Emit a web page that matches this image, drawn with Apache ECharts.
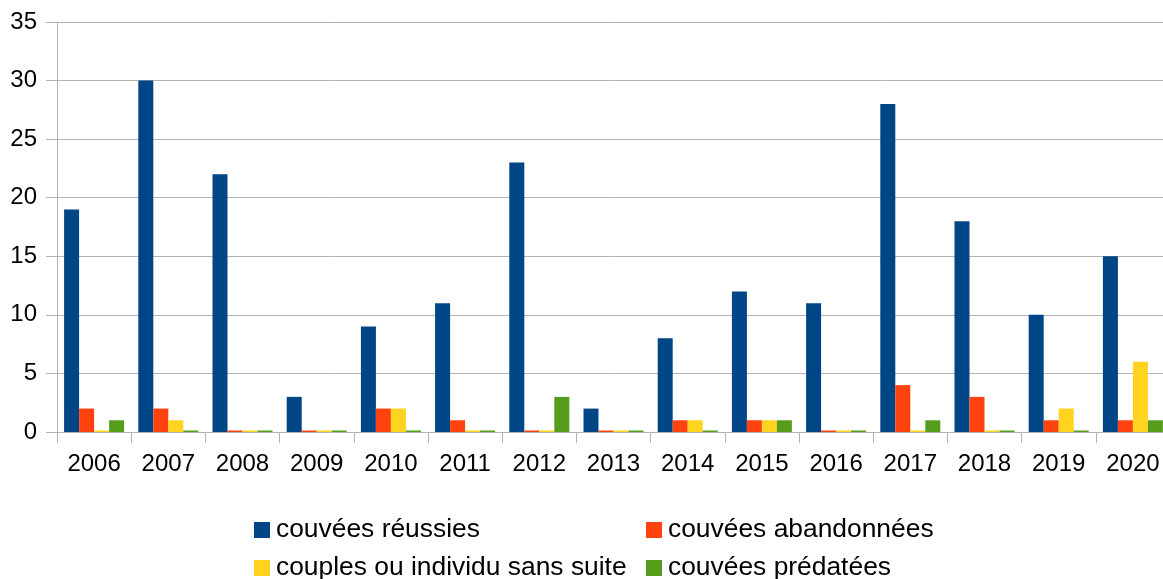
<!DOCTYPE html>
<html lang="fr">
<head>
    <meta charset="UTF-8">
    <title>Couvées 2006-2020</title>
    <script src="https://cdn.jsdelivr.net/npm/echarts@6/dist/echarts.min.js"></script>
    <style>
        html, body { margin: 0; padding: 0; background: #fff; }
        #chart { width: 1163px; height: 579px; }
    </style>
</head>
<body>
<div id="chart"></div>
<script>
    // données
    var annees = ['2006', '2007', '2008', '2009', '2010', '2011', '2012', '2013', '2014', '2015', '2016', '2017', '2018', '2019', '2020'];
    var reussies = [19, 30, 22, 3, 9, 11, 23, 2, 8, 12, 11, 28, 18, 10, 15];
    var abandonnees = [2, 2, 0, 0, 2, 1, 0, 0, 1, 1, 0, 4, 3, 1, 1];
    var sansSuite = [0, 1, 0, 0, 2, 0, 0, 0, 1, 1, 0, 0, 0, 2, 6];
    var predatees = [1, 0, 0, 0, 0, 0, 3, 0, 0, 1, 0, 1, 0, 0, 1];
    var noms = ['couvées réussies', 'couvées abandonnées', 'couples ou individu sans suite', 'couvées prédatées'];
    var couleurs = ['#004586', '#ff420e', '#ffd320', '#579d1c'];

    var police = '"Liberation Sans", Arial, sans-serif';

    function legende(i, left, top) {
        return {
            data: [noms[i]],
            left: left,
            top: top,
            padding: 0,
            icon: 'rect',
            itemWidth: 16,
            itemHeight: 16,
            itemGap: 0,
            selectedMode: false,
            textStyle: { fontFamily: police, fontSize: 26.4, color: '#000', lineHeight: 30, padding: [0, 0, 0, 1] }
        };
    }

    function serie(i, data) {
        return {
            name: noms[i],
            type: 'bar',
            data: data,
            barWidth: 15,
            barGap: '0%',
            barMinHeight: 1.5,
            itemStyle: { color: couleurs[i] }
        };
    }

    var option = {
        animation: false,
        color: couleurs,
        grid: {
            left: 57,
            right: -7,
            top: 22,
            bottom: 147,
            containLabel: false,
            outerBoundsMode: 'none'
        },
        legend: [
            legende(0, 254, 515),
            legende(1, 646, 515),
            legende(2, 254, 553),
            legende(3, 646, 553)
        ],
        xAxis: {
            type: 'category',
            data: annees,
            axisLine: { lineStyle: { color: '#b3b3b3', width: 1 } },
            axisTick: { show: true, length: 11, lineStyle: { color: '#b3b3b3' } },
            axisLabel: { color: '#000', fontFamily: police, fontSize: 24, margin: 20 },
            splitLine: { show: false }
        },
        yAxis: {
            type: 'value',
            min: 0,
            max: 35,
            interval: 5,
            axisLine: { show: true, lineStyle: { color: '#b3b3b3', width: 1 } },
            axisTick: { show: true, length: 11, lineStyle: { color: '#b3b3b3' } },
            axisLabel: { color: '#000', fontFamily: police, fontSize: 24, margin: 20 },
            splitLine: { show: true, lineStyle: { color: '#b3b3b3', width: 1 } }
        },
        series: [
            serie(0, reussies),
            serie(1, abandonnees),
            serie(2, sansSuite),
            serie(3, predatees)
        ]
    };

    var graphique = echarts.init(document.getElementById('chart'));
    graphique.setOption(option);
</script>
</body>
</html>
